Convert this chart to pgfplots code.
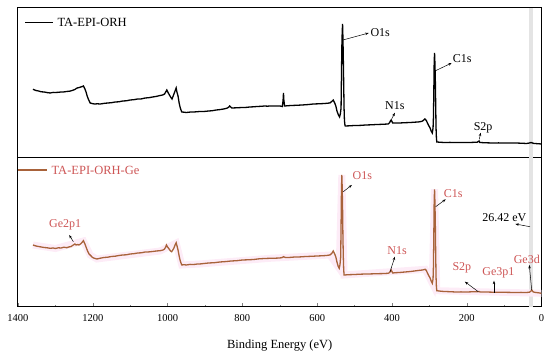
\documentclass[border=0pt]{standalone}
\usepackage{fontspec}
\setmainfont{Liberation Serif}
\usepackage{pgfplots}
\pgfplotsset{compat=1.18}
\usetikzlibrary{arrows.meta}
\definecolor{brn}{RGB}{168,98,58}
\definecolor{rtx}{RGB}{205,85,85}
\definecolor{glow}{RGB}{253,236,247}
\definecolor{band}{RGB}{228,228,228}
\tikzset{
  lbl/.style={font=\fontsize{12}{14}\selectfont, inner sep=0.5pt},
  arr/.style={-{Stealth[length=3.5pt,width=2.5pt]}, line width=0.5pt},
}
\pgfplotsset{
  common/.style={
    scale only axis, width=523.5pt, xmin=0, xmax=1400, x dir=reverse,
    ytick=\empty, axis line style={line width=1pt}, clip=true,
    /pgf/number format/assume math mode=true,
    /pgf/number format/1000 sep={},
    tick label style={font=\fontsize{10.5}{12}\selectfont},
    label style={font=\fontsize{12.5}{14}\selectfont},
  },
}
\begin{document}
\begin{tikzpicture}
\useasboundingbox (-18pt,-48pt) rectangle (532pt,307pt);
% ---------------- bottom panel ----------------
\begin{axis}[common, at={(0,0)}, anchor=south west, height=149pt, ymin=0, ymax=149,
  xtick={0,200,...,1400}, minor x tick num=1, tick align=inside, xtick pos=bottom,
  major tick length=4pt, minor tick length=2pt,
  xlabel={Binding Energy (eV)}, xlabel style={yshift=-11pt},
  x tick label style={yshift=-4pt}]
\draw[band, line width=4pt] (axis cs:28,0) -- (axis cs:28,149);
\addplot[glow, line width=7pt] coordinates {
(1360,62) (1300,58.5) (1225,66) (1207,52) (1189,48) (1020,56) (977,64) (962,42) (914,43) (726,48.7) (566,52) (541,38.7) (534,132) (528,32) (311,37.7) (292,23.7) (286,117.7) (280,16.3) (0,13.7)};
\addplot[brn, line width=1.3pt] coordinates {
(1360,62) (1352,61) (1345,60.5) (1338,60) (1330,59.5) (1322,59.2) (1314,58.7) (1306,59) (1300,58.5) (1292,59.2) (1285,59) (1277,59.8) (1270,59.3) (1264,60) (1258,60.5) (1252,62) (1248,63) (1245,62) (1240,62.5) (1237,62) (1233,63) (1230,64) (1225,66.3) (1221,63) (1218,60) (1214,56) (1210,53) (1207,52) (1202,50) (1198,49) (1189,48) (1180,48.8) (1170,49.5) (1160,49.8) (1150,50.5) (1140,50.8) (1130,51.5) (1120,52) (1110,52.2) (1100,53) (1090,53.3) (1080,54) (1070,54.2) (1060,55) (1050,55.1) (1040,55.5) (1030,56) (1020,56.3) (1012,57) (1008,58) (1005,60) (1003,62) (1000,60) (996,58) (992,56) (989,55.3) (986,57) (983,59) (980,62) (977,64.3) (974,60) (972,57) (969,51) (966,46) (962,42) (956,42.3) (950,42) (940,42.6) (930,42.5) (920,43) (914,43) (900,43.6) (890,44) (875,44.3) (860,45) (845,45.4) (830,46) (815,46.3) (800,47) (785,47.2) (770,47.5) (755,48.2) (740,48.5) (726,48.7) (712,48.8) (700,49) (693,49.5) (690,50.3) (685,49.5) (672,49.6) (660,50) (645,50.1) (630,50.5) (615,50.7) (600,51) (588,51.2) (575,51.5) (566,52) (561,53.5) (557,56) (553,53) (550,50) (547,45) (544,41) (541,38.7) (539,42) (537,50) (536,80) (535,115) (534,132) (533,120) (532,100) (531,70) (530,50) (529,38) (528,32) (515,32.3) (500,32.5) (485,32.8) (470,33) (455,33.1) (440,33.3) (425,33.4) (410,33.7) (406,34.5) (404,36) (402,37) (400,35.5) (398,34) (390,34.3) (380,34.5) (365,35) (350,35.5) (340,36) (330,36.5) (318,37) (311,37.7) (308,36.5) (305,34) (301,31) (298,29) (295,26) (292,23.7) (290,28) (289,40) (288,70) (287,105) (286,117.7) (285,105) (284,85) (283,55) (282,30) (281,20) (280,16.3) (270,15.8) (260,15.5) (245,15.3) (230,15) (215,15.1) (200,15) (185,15.2) (170,15.3) (167,15.5) (164,15) (150,15) (130,14.8) (115,14.8) (103,14.7) (85,14.6) (70,14.5) (55,14.6) (40,14.5) (32,14.8) (28,16) (26,17) (24,16) (22,15) (15,14.5) (8,14.2) (0,13.7)};
% legend
\draw[brn, line width=1.3pt] (axis cs:1400,137) -- (axis cs:1322,137);
\node[lbl, anchor=west, text=rtx, font=\fontsize{12.5}{14}\selectfont] at (axis cs:1312,137) {TA-EPI-ORH-Ge};
% annotations
\draw[arr] (axis cs:530,115.3) -- (axis cs:507,122);
\node[lbl, anchor=west, text=rtx] at (axis cs:507,131) {O1s};
\draw[arr] (axis cs:283,100.3) -- (axis cs:256,107.7);
\node[lbl, anchor=west, text=rtx] at (axis cs:263,113.7) {C1s};
\draw[arr] (axis cs:30.8,80.3) -- (axis cs:70,83);
\node[lbl, anchor=west] at (axis cs:160,89.7) {26.42 eV};
\draw[arr] (axis cs:405,35.3) -- (axis cs:392,50.3);
\node[lbl, text=rtx] at (axis cs:386,56.3) {N1s};
\draw[arr] (axis cs:169,15.3) -- (axis cs:205,25.3);
\node[lbl, text=rtx] at (axis cs:213,38.7) {S2p};
\draw[arr] (axis cs:127,14.3) -- (axis cs:127,26.3);
\node[lbl, text=rtx] at (axis cs:115,33.7) {Ge3p1};
\draw[arr] (axis cs:26.2,17) -- (axis cs:32.6,42);
\node[lbl, anchor=west, text=rtx] at (axis cs:76,47.7) {Ge3d};
\draw[arr] (axis cs:1252,65.3) -- (axis cs:1263,72);
\node[lbl, text=rtx] at (axis cs:1274,82) {Ge2p1};
\end{axis}
% ---------------- top panel ----------------
\begin{axis}[common, at={(0,149pt)}, anchor=south west, height=150pt, ymin=0, ymax=150,
  xtick=\empty]
\draw[band, line width=4pt] (axis cs:28,0) -- (axis cs:28,150);
\addplot[black, line width=1.3pt] coordinates {
(1360,68.7) (1352,67.5) (1345,67) (1338,66.2) (1330,66) (1322,65.4) (1314,65) (1306,65.6) (1300,65.5) (1292,65.7) (1285,66) (1277,66.1) (1270,66.5) (1262,66.8) (1255,67.5) (1248,68.5) (1242,70) (1236,70.5) (1232,71) (1228,71.5) (1225,72) (1221,69) (1218,66) (1215,62) (1212,59) (1207,55) (1200,54.3) (1195,54) (1188,54.2) (1180,54) (1170,54.6) (1160,55) (1150,55.3) (1140,56) (1130,56.2) (1120,57) (1110,57.2) (1100,58) (1090,58.3) (1080,59) (1070,59.1) (1060,60) (1050,60.3) (1040,61) (1030,61.6) (1020,62.5) (1013,63) (1008,64) (1005,66) (1002,68) (998,65) (995,63) (991,60.5) (988,59) (986,61) (983,64) (980,67) (977,70) (975,66) (972,62) (969,55) (966,50) (962,46) (956,45.8) (950,45.5) (940,45.9) (930,46) (920,46.3) (913,46.5) (900,46.6) (890,47) (880,47.3) (870,48) (860,48.4) (850,49) (844,49.5) (840,50) (836,51) (834,52) (831,51) (828,50) (815,50.2) (800,50.5) (790,50.6) (780,51) (770,51.2) (760,51.5) (750,51.7) (740,52) (733,51.8) (726,52) (718,51.9) (710,52) (700,52) (695,51.7) (693,51.5) (691,58) (690,65) (689,58) (687,52) (680,52.2) (670,52.5) (655,52.7) (640,53) (625,53.4) (610,54) (595,54.2) (580,54.5) (572,54.8) (566,55) (561,56.5) (557,58) (553,55) (550,52) (547,47) (543,43) (540,41) (538,44) (536,50) (535,80) (534,110) (533,125) (532,134) (531,120) (530,100) (529,75) (528,50) (527,38) (526,34) (525,32) (512,32.2) (500,32.5) (485,32.6) (470,33) (455,33.2) (440,33.5) (425,33.7) (410,34) (406,35.5) (404,37) (402,38) (400,36.5) (398,35) (390,35) (380,35) (365,35.3) (350,35.5) (340,35.8) (330,36) (322,36.5) (318,37) (315,38) (312,39) (308,37.5) (305,35) (301,32) (298,30) (295,27) (292,25) (290,30) (289,40) (288,65) (287,95) (286,105) (285,95) (284,80) (283,55) (282,30) (281,20) (280,16) (270,15.7) (260,15.5) (245,15.6) (230,15.5) (215,15.4) (200,15.5) (185,15.6) (172,15.8) (167,17) (165,15.5) (150,15.2) (130,15) (115,15.1) (103,15) (85,15) (70,15) (55,14.8) (40,14.5) (32,15) (28,15.5) (24,15) (20,14.5) (10,14.3) (0,14)};
% legend
\draw[black, line width=1.3pt] (axis cs:1381,135.3) -- (axis cs:1306,135.3);
\node[lbl, anchor=west, font=\fontsize{12.5}{14}\selectfont] at (axis cs:1296,135.3) {TA-EPI-ORH};
% annotations
\draw[arr] (axis cs:531,118) -- (axis cs:462,125);
\node[lbl, anchor=west] at (axis cs:459,125.3) {O1s};
\draw[arr] (axis cs:285,87) -- (axis cs:240,95);
\node[lbl, anchor=west] at (axis cs:239,99) {C1s};
\draw[arr] (axis cs:400.6,39) -- (axis cs:392,45.3);
\node[lbl] at (axis cs:392,52) {N1s};
\draw[arr] (axis cs:166.3,18.7) -- (axis cs:162.6,25.3);
\node[lbl] at (axis cs:156,29.7) {S2p};
\end{axis}
\end{tikzpicture}
\end{document}
